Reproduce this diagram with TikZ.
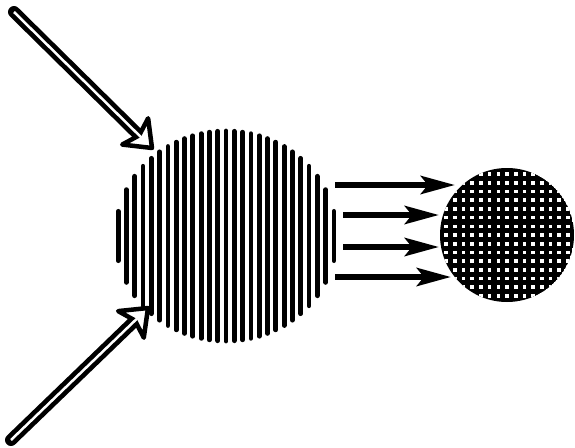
\documentclass[tikz,border=0pt]{standalone}
\usetikzlibrary{arrows.meta,shapes.geometric,calc}
\begin{document}
\begin{tikzpicture}[x=1pt,y=-1pt,
  stripe/.style={line width=4.8pt, line cap=round},
  flow/.style={line width=6pt, -{Stealth[length=34pt,width=18pt,inset=7pt]}},
  shaft/.style={line width=12pt, line cap=round},
  gap/.style={white, line width=2.5pt},
  openhead/.style={line width=4.5pt, fill=white, line join=round},
]
\useasboundingbox (0,0) rectangle (575,447);
\node[ellipse, minimum width=222pt, minimum height=214pt, inner sep=0pt] (big) at (226,236) {};
\node[circle, minimum size=134pt, inner sep=0pt] (small) at (507,235) {};
% vertically striped sphere
\foreach \i in {-13,...,13} {
  \pgfmathsetmacro{\dx}{\i*8.3}
  \pgfmathsetmacro{\h}{max(0.5, 105*sqrt(max(0,1-(\dx/111)^2)))}
  \draw[stripe] (226+\dx, 236-\h) -- (226+\dx, 236+\h);
}
% cross-hatched sphere
\begin{scope}
  \clip (small.center) circle (67pt);
  \fill (small.center) circle (67pt);
  \foreach \a in {-8,...,8} \foreach \b in {-8,...,8}
    \fill[white] (507+\a*8.7-1.8, 235+\b*8.7-1.8) rectangle ++(3.6,3.6);
\end{scope}
% right arrows
\coordinate (a1) at (335,185); \coordinate (b1) at (455,185);
\coordinate (a2) at (343,215); \coordinate (b2) at (439,215);
\coordinate (a3) at (343,247); \coordinate (b3) at (439,247);
\coordinate (a4) at (335,277); \coordinate (b4) at (451,277);
\foreach \k in {1,2,3,4} \draw[flow] (a\k) -- (b\k);
% double-line arrows
\coordinate (s1) at (14,12);  \coordinate (t1) at (152,148);
\coordinate (s2) at (11,440); \coordinate (t2) at (148,308);
\foreach \k in {1,2} {
  \draw[shaft] (s\k) -- ($(t\k)!20pt!(s\k)$);
  \draw[openhead] (t\k) -- ($(t\k)!30pt!38:(s\k)$) -- ($(t\k)!18pt!(s\k)$) -- ($(t\k)!30pt!-38:(s\k)$) -- cycle;
  \draw[gap] (s\k) -- ($(t\k)!10pt!(s\k)$);
}
\end{tikzpicture}
\end{document}
